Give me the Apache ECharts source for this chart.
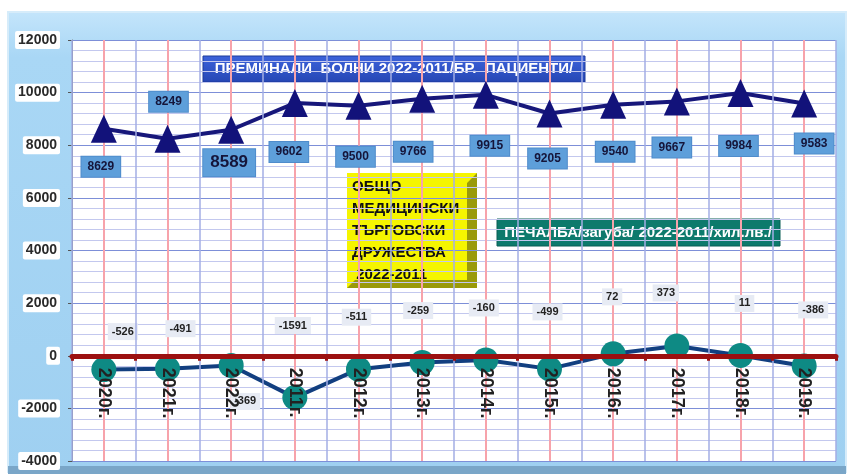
<!DOCTYPE html>
<html><head><meta charset="utf-8">
<script src="https://cdn.jsdelivr.net/npm/echarts@6/dist/echarts.min.js"></script>
<style>html,body{margin:0;padding:0;background:#fff}#c{width:848px;height:474px}</style>
</head><body><div id="c"></div>
<script>
var categories = ['2020г.','2021г.','2022г.','2011г.','2012г.','2013г.','2014г.','2015г.','2016г.','2017г.','2018г.','2019г.'];
var patients = [8629, 8249, 8589, 9602, 9500, 9766, 9915, 9205, 9540, 9667, 9984, 9583];
var profit = [-526, -491, -369, -1591, -511, -259, -160, -499, 72, 373, 11, -386];
var yTicks = {min: -4000, max: 12000, interval: 2000};
var titlePatients = 'ПРЕМИНАЛИ  БОЛНИ 2022-2011/БР.  ПАЦИЕНТИ/';
var titleProfit = 'ПЕЧАЛБА/загуба/ 2022-2011/хил.лв./';
var titleCompany = ['ОБЩО','МЕДИЦИНСКИ','ТЪРГОВСКИ','ДРУЖЕСТВА',' 2022-2011'];

// label offsets (styling only)
var pOff = [[-3,38],[1,-37],[-2,33],[-6,49],[-3,51],[-9,53],[4,51],[-2,45],[2,47],[-5,46],[-2,53],[10,40]];
var fOff = [[19,-38],[13,-40],[14,36],[-2,-72],[-2,-52],[-4,-52],[-2,-52],[-2,-57],[-1,-57],[-11,-53],[4,-52],[9,-56]];

var chart = echarts.init(document.getElementById('c'));
var FONT = '"Liberation Sans", Arial, sans-serif';

var pData = patients.map(function(v,i){
  var lab = {offset: pOff[i]};
  if (i === 2) { lab.fontSize = 17; lab.padding = [5,7]; }
  return {value: v, label: lab};
});
var fData = profit.map(function(v,i){ return {value: v, label: {offset: fOff[i]}}; });

chart.setOption({
  animation: false,
  backgroundColor: '#ffffff',
  textStyle: {fontFamily: FONT},
  graphic: [
    {type: 'rect', z: -10, shape: {x: 8, y: 12, width: 838, height: 460},
     style: {fill: new echarts.graphic.LinearGradient(0,0,0,1,[{offset:0,color:'#c4e5fb'},{offset:0.1,color:'#a9d7f5'},{offset:1,color:'#9fd0f1'}]), stroke: '#d6ecfa', lineWidth: 2}},
    {type: 'rect', z: -9, shape: {x: 8, y: 466, width: 838, height: 8}, style: {fill: '#7aa6c8'}},
    {type: 'group', z: 100, children: [
      {type: 'rect', shape: {x: 203, y: 56, width: 382, height: 26},
       style: {fill: new echarts.graphic.LinearGradient(0,0,0,1,[{offset:0,color:'#3d63dc'},{offset:1,color:'#2546b4'}]), stroke: '#1d3a9a', lineWidth: 1}},
      {type: 'text', x: 394, y: 69, style: {text: titlePatients, fill: '#ffffff', font: 'bold 15px ' + FONT, align: 'center', verticalAlign: 'middle'}}
    ]},
    {type: 'group', z: 100, children: [
      {type: 'rect', shape: {x: 497, y: 219, width: 283, height: 27}, style: {fill: '#0d7a6c', stroke: '#0a5f55', lineWidth: 1}},
      {type: 'text', x: 638, y: 233, style: {text: titleProfit, fill: '#ffffff', font: 'bold 15px ' + FONT, align: 'center', verticalAlign: 'middle'}}
    ]},
    {type: 'group', z: 100, children: [
      {type: 'rect', shape: {x: 347, y: 173, width: 130, height: 115}, style: {fill: '#9a9a0a'}},
      {type: 'polygon', shape: {points: [[347,173],[477,173],[467,183],[467,280],[355,280],[347,288]]}, style: {fill: '#f5f500'}},
      {type: 'text', x: 352, y: 176, style: {text: titleCompany.join('\n'), fill: '#111111', font: 'bold 15px ' + FONT, lineHeight: 22, align: 'left', verticalAlign: 'top'}}
    ]}
  ],
  grid: {left: 72, right: 12, top: 40, bottom: 13, show: true, backgroundColor: '#ffffff', borderWidth: 0, outerBoundsMode: 'none', containLabel: false},
  xAxis: [{
    type: 'category', data: categories, boundaryGap: true, z: 10,
    axisLine: {onZero: true, lineStyle: {color: '#9c1010', width: 5}},
    axisTick: {show: true, length: 5, lineStyle: {color: '#9c1010', width: 3}},
    axisLabel: {show: false},
    splitLine: {show: true, lineStyle: {color: '#a3aee4', width: 1.5}}
  }, {
    type: 'category', data: categories, boundaryGap: true, z: 12, position: 'bottom', offset: 0,
    axisLine: {show: false, onZero: false},
    axisTick: {show: false},
    splitLine: {show: false},
    axisLabel: {rotate: -90, margin: 12, color: '#222222', fontSize: 18, fontWeight: 'bold', fontFamily: FONT, padding: [10,0,0,0]}
  }],
  yAxis: {
    type: 'value', min: yTicks.min, max: yTicks.max, interval: yTicks.interval,
    axisLine: {show: true, onZero: false, lineStyle: {color: '#777777', width: 1}},
    axisTick: {show: true, length: 4, lineStyle: {color: '#555'}},
    axisLabel: {color: '#2a2a2a', fontSize: 14, fontWeight: 'bold', fontFamily: FONT, margin: 12,
      backgroundColor: '#ffffff', padding: [2,3], borderRadius: 2,
      formatter: function(v){ return String(v); }},
    splitLine: {show: true, lineStyle: {color: '#7d8fd8', width: 1.2}},
    minorTick: {show: false, splitNumber: 5},
    minorSplitLine: {show: true, lineStyle: {color: '#c3c8ee', width: 1}}
  },
  series: [
    {
      type: 'line', data: categories.map(function(){ return null; }), z: 1, silent: true,
      markLine: {silent: true, symbol: 'none', z: 1, label: {show: false},
        lineStyle: {color: '#f7a3ab', width: 2, type: 'solid'},
        data: categories.map(function(c){ return {xAxis: c}; })}
    },
    {
      name: 'patients', type: 'line', data: pData, z: 4,
      symbol: 'triangle', symbolSize: [26, 28],
      lineStyle: {color: '#17177a', width: 4},
      itemStyle: {color: '#12127a'},
      label: {show: true, position: 'inside', color: '#15153a', fontSize: 12, fontWeight: 'bold', fontFamily: FONT,
        backgroundColor: '#5e9fda', padding: [4,6], borderColor: '#4f8ccb', borderWidth: 1}
    },
    {
      name: 'profit', type: 'line', data: fData, z: 3,
      symbol: 'circle', symbolSize: 25,
      lineStyle: {color: '#123f80', width: 4},
      itemStyle: {color: '#0e8a84'},
      label: {show: true, position: 'inside', color: '#222222', fontSize: 11, fontWeight: 'bold', fontFamily: FONT,
        backgroundColor: '#e7ebf4', padding: [3,4]}
    }
  ]
});
// move the category labels up to the zero line (layout derived from the y scale)
var zeroY = chart.convertToPixel({yAxisIndex: 0}, 0);
var bottomY = chart.convertToPixel({yAxisIndex: 0}, yTicks.min);
chart.setOption({xAxis: [{}, {offset: -(bottomY - zeroY)}]});
</script></body></html>
